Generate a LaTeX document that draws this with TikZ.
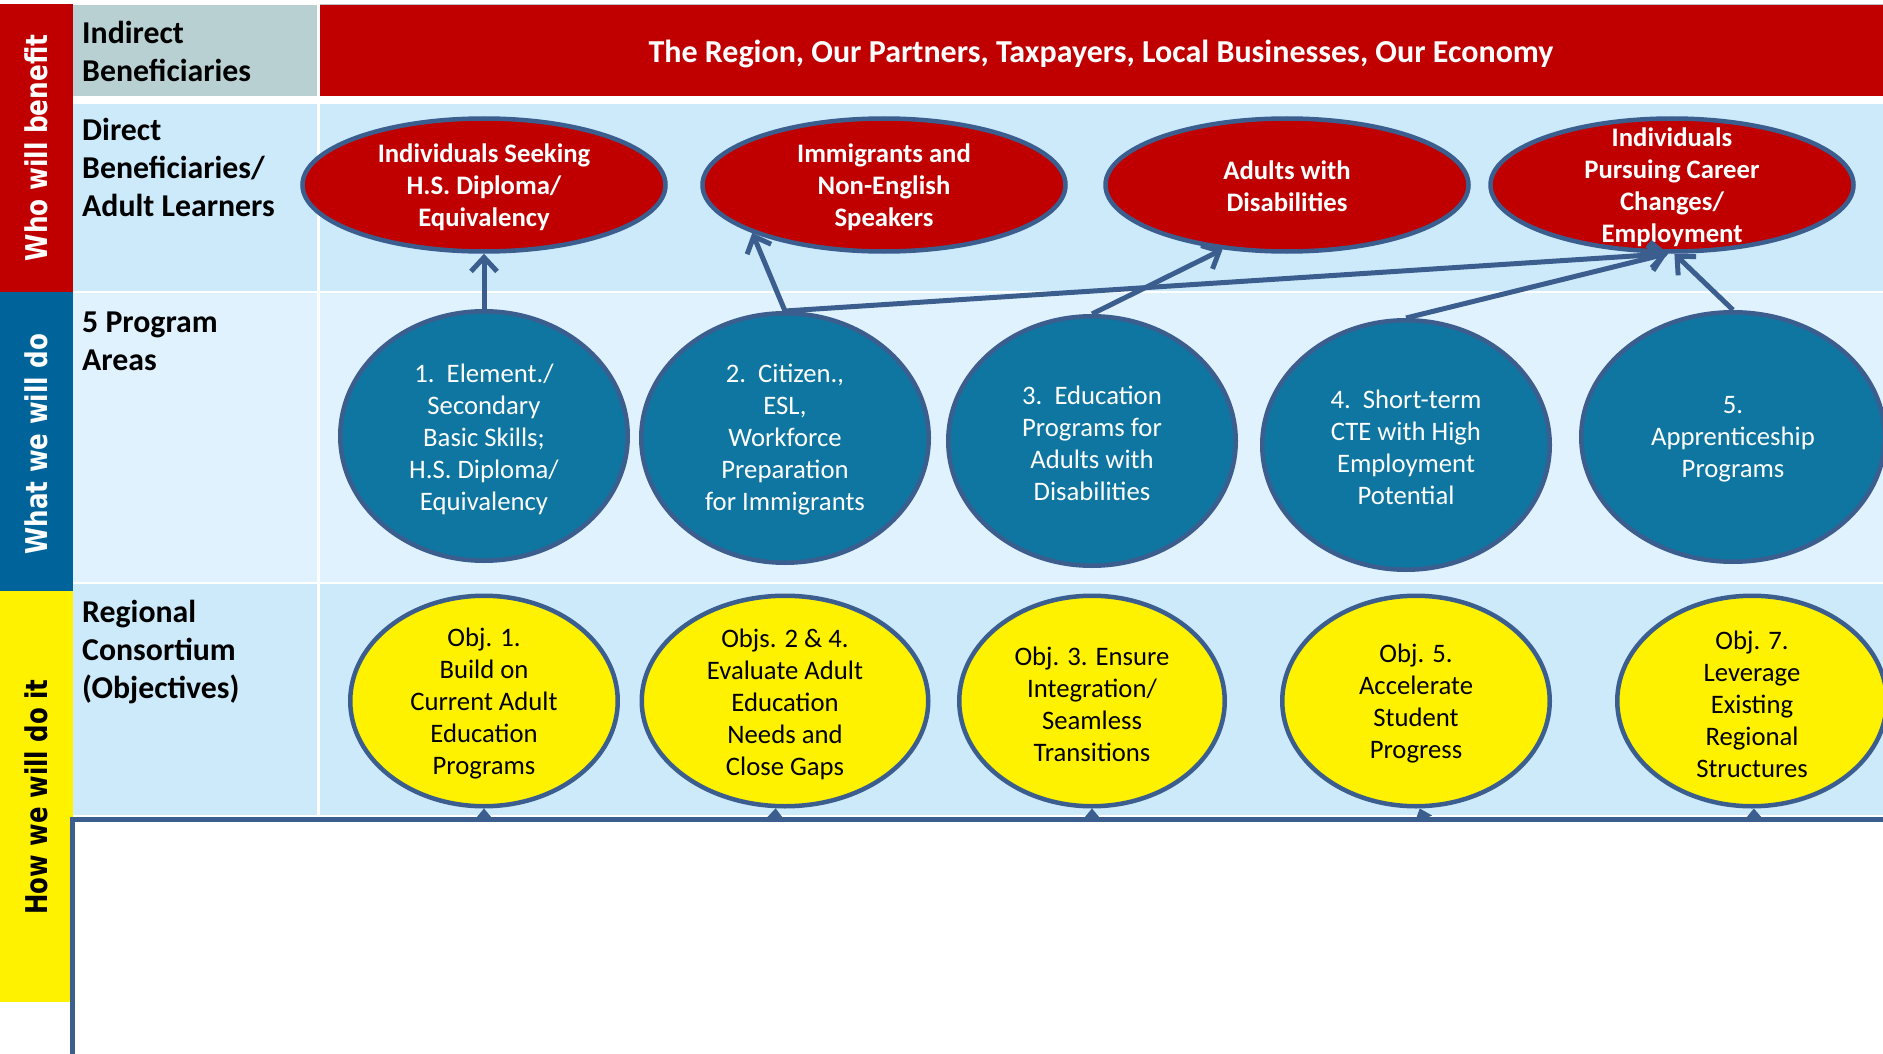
\documentclass[tikz,border=0pt]{standalone}
\usepackage{fontspec}
\setmainfont{Carlito}
\newfontfamily\vfont{DejaVu Sans}
\usetikzlibrary{shapes.geometric,arrows.meta}
\definecolor{darkred}{HTML}{C00000}
\definecolor{barblue}{HTML}{00649A}
\definecolor{grayc}{HTML}{B8D0D2}
\definecolor{lblue}{HTML}{CDEAFB}
\definecolor{llblue}{HTML}{E0F2FD}
\definecolor{edge}{HTML}{3B5E8E}
\definecolor{circblue}{HTML}{0E76A0}
\begin{document}
\begin{tikzpicture}[x=1pt,y=-1pt,
  redell/.style={ellipse, draw=edge, line width=4.5pt, fill=darkred, minimum width=363pt, minimum height=133pt, inner sep=0pt},
  redtxt/.style={text=white, font=\bfseries\fontsize{26.7}{32}\selectfont, align=center, inner sep=0pt},
  bluec/.style={ellipse, draw=edge, line width=4.5pt, fill=circblue, minimum width=287.5pt, minimum height=249.5pt, inner sep=0pt},
  bluetxt/.style={text=white, font=\fontsize{26.7}{32}\selectfont, align=center, inner sep=0pt},
  yell/.style={ellipse, draw=edge, line width=4.5pt, fill=yellow, minimum height=210.5pt, inner sep=0pt},
  yelltxt/.style={text=black, font=\fontsize{26.7}{32}\selectfont, align=center, inner sep=0pt},
  hdr/.style={anchor=base west, font=\bfseries\fontsize{31.8}{38}\selectfont, align=left, inner sep=0pt},
  vlab/.style={rotate=90, font=\vfont\bfseries\fontsize{30}{36}\selectfont, inner sep=0pt},
  arr/.style={draw=edge, line width=5pt, -{Straight Barb[length=14pt,width=26pt]}},
  tri/.style={draw=edge, line width=2pt, -{Triangle[length=11pt,width=18pt]}}
]
\useasboundingbox (0,0) rectangle (1883,1054);
\fill[white] (0,0) rectangle (1883,1054);
% left bars
\fill[darkred] (0,4) rectangle (73,292);
\fill[barblue] (0,292) rectangle (73,591);
\fill[yellow] (0,591) rectangle (73,1002);
% rows
\fill[grayc] (73,5) rectangle (317,96);
\fill[darkred] (320,5) rectangle (1883,96);
\draw[gray!50, line width=1pt] (320,4.5) -- (1883,4.5);
\fill[lblue] (73,104) rectangle (317,291);
\fill[lblue] (320,104) rectangle (1883,291);
\fill[llblue] (73,293) rectangle (317,582);
\fill[llblue] (320,293) rectangle (1883,582);
\fill[lblue] (73,584) rectangle (317,815);
\fill[lblue] (320,584) rectangle (1883,815);
% frame of lower box
\draw[edge, line width=5pt] (72,1060) -- (72,819.5) -- (1890,819.5);
% vertical labels
\node[vlab, text=white] (lw) at (36,148) {\scalebox{0.825}[1]{Who will benefit}};
\node[vlab, text=white] (lwd) at (36,444) {\scalebox{0.82}[1]{What we will do}};
\node[vlab, text=black] (lhw) at (36,797) {\scalebox{0.815}[1]{How we will do it}};
% header texts (anchor = baseline of last line)
\node[hdr] (h1) at (82,81.7) {Indirect\\Beneficiaries};
\node[hdr] (h2) at (82,216) {Direct\\Beneficiaries/\\Adult Learners};
\node[hdr] (h3) at (82,370.5) {5 Program\\Areas};
\node[hdr] (h4) at (82,698.7) {Regional\\Consortium\\(Objectives)};
\node[anchor=base, text=white, font=\bfseries\fontsize{32}{38}\selectfont, inner sep=0pt] (banner) at (1101,63) {The Region, Our Partners, Taxpayers, Local Businesses, Our Economy};
% red ellipses
\node[redell] (b1) at (484,185) {};
\node[redell] (b2) at (884,185) {};
\node[redell] (b3) at (1287,185) {};
\node[redell] (b4) at (1672,185) {};
\node[redtxt] (b1t) at (484,187) {Individuals Seeking\\H.S. Diploma/\\Equivalency};
\node[redtxt] (b2t) at (884,187) {Immigrants and\\Non-English\\Speakers};
\node[redtxt] (b3t) at (1287,186) {Adults with\\Disabilities};
\node[redtxt] (b4t) at (1672,187) {Individuals\\Pursuing Career\\Changes/\\Employment};
% blue circles
\node[bluec] (c1) at (484,436) {};
\node[bluec] (c2) at (785,438) {};
\node[bluec] (c3) at (1092,441) {};
\node[bluec] (c4) at (1406,445) {};
\node[bluec, minimum width=303.5pt] (c5) at (1733,437) {};
\node[bluetxt] (c1t) at (484,439) {1.~~Element./\\Secondary\\Basic Skills;\\H.S. Diploma/\\Equivalency};
\node[bluetxt] (c2t) at (785,440) {2.~~Citizen.,\\ESL,\\Workforce\\Preparation\\for Immigrants};
\node[bluetxt] (c3t) at (1092,443) {3.~~Education\\Programs for\\Adults with\\Disabilities};
\node[bluetxt] (c4t) at (1406,447) {4.~~Short-term\\CTE with High\\Employment\\Potential};
\node[bluetxt] (c5t) at (1733,439) {5.\\Apprenticeship\\Programs};
% yellow ellipses
\node[yell, minimum width=267.5pt] (o1) at (484,701) {};
\node[yell, minimum width=286.5pt] (o2) at (785,701) {};
\node[yell, minimum width=265.5pt] (o3) at (1092,701) {};
\node[yell, minimum width=267.5pt] (o4) at (1416,701) {};
\node[yell, minimum width=269.5pt] (o5) at (1752,701) {};
\node[yelltxt] (o1t) at (484,704) {Obj. 1.\\Build on\\Current Adult\\Education\\Programs};
\node[yelltxt] (o2t) at (785,704) {Objs. 2 \& 4.\\Evaluate Adult\\Education\\Needs and\\Close Gaps};
\node[yelltxt] (o3t) at (1092,704) {Obj. 3. Ensure\\Integration/\\Seamless\\Transitions};
\node[yelltxt] (o4t) at (1416,704) {Obj. 5.\\Accelerate\\Student\\Progress};
\node[yelltxt] (o5t) at (1752,704) {Obj. 7.\\Leverage\\Existing\\Regional\\Structures};
% arrows from frame to objectives
\coordinate (f1) at (484,820);
\coordinate (f2) at (775,820);
\coordinate (f3) at (1092,820);
\coordinate (f4) at (1424,820);
\coordinate (f5) at (1754,820);
\draw[tri] (f1) -- (o1.south);
\draw[tri] (f2) -- (o2.265);
\draw[tri] (f3) -- (o3.south);
\draw[tri] (f4) -- (o4.272);
\draw[tri] (f5) -- (o5.271);
% arrows programs -> beneficiaries
\draw[arr] (c1.north) -- (b1.south);
\draw[arr] (c2.north) -- (b2.200);
\draw[arr] (c3.north) -- (b3.225);
\draw[arr] (c2.north) -- (b4.267);
\draw[arr] (c4.north) -- (b4.266);
\draw[arr] (c5.north) -- (b4.272);
\end{tikzpicture}
\end{document}
